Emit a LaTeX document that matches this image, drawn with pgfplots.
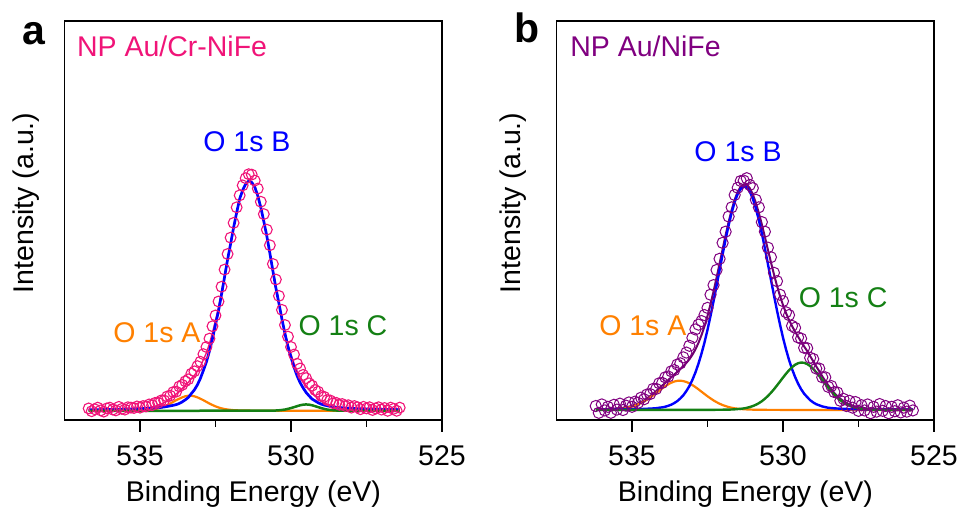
\documentclass[border=0pt]{standalone}
\usepackage{pgfplots}
\usepackage{pgfplotstable}
\pgfplotsset{compat=1.18}
\usepackage{fontspec}
\setmainfont{Liberation Sans}
\definecolor{pinkc}{RGB}{240,20,120}
\definecolor{purplec}{RGB}{128,0,128}
\definecolor{envb}{RGB}{110,0,110}
\definecolor{bluec}{RGB}{0,0,255}
\definecolor{orangec}{RGB}{255,128,0}
\definecolor{greenc}{RGB}{20,128,20}

% Panel a: x, data, envelope, blue(B), orange(A), green(C)
\pgfplotstableread{
x d e b o g
536.7 2.9 2.59 2.56 2.32 2.31
536.6 2.2 2.60 2.57 2.32 2.31
536.5 2.7 2.62 2.59 2.32 2.31
536.4 3.1 2.63 2.60 2.32 2.31
536.3 2.4 2.64 2.61 2.32 2.31
536.2 2.1 2.64 2.61 2.33 2.31
536.1 2.9 2.66 2.62 2.33 2.31
536.0 3.1 2.68 2.64 2.33 2.31
535.9 2.6 2.69 2.65 2.33 2.31
535.8 2.4 2.71 2.66 2.34 2.31
535.7 3.3 2.73 2.68 2.34 2.31
535.6 2.8 2.75 2.70 2.34 2.31
535.5 2.6 2.77 2.71 2.35 2.31
535.4 3.2 2.80 2.74 2.35 2.31
535.3 3.1 2.83 2.76 2.36 2.31
535.2 3.0 2.86 2.78 2.37 2.31
535.1 3.4 2.91 2.81 2.39 2.31
535.0 3.1 2.94 2.83 2.40 2.31
534.9 3.5 3.00 2.86 2.43 2.31
534.8 3.4 3.06 2.88 2.47 2.31
534.7 3.9 3.15 2.90 2.54 2.31
534.6 3.7 3.30 2.96 2.63 2.31
534.5 4.3 3.48 3.02 2.75 2.31
534.4 4.3 3.72 3.09 2.92 2.31
534.3 4.9 4.01 3.16 3.14 2.31
534.2 4.9 4.40 3.27 3.42 2.31
534.1 5.9 4.85 3.39 3.75 2.31
534.0 6.1 5.36 3.53 4.12 2.31
533.9 7.0 5.93 3.68 4.54 2.31
533.8 7.1 6.53 3.86 4.96 2.31
533.7 8.4 7.18 4.14 5.33 2.31
533.6 8.8 7.94 4.55 5.68 2.31
533.5 9.7 8.71 5.06 5.94 2.31
533.4 10.2 9.43 5.64 6.08 2.31
533.3 11.6 10.41 6.62 6.08 2.31
533.2 12.2 11.19 7.54 5.94 2.31
533.1 13.5 12.20 8.81 5.68 2.31
533.0 14.6 13.47 10.42 5.33 2.32
532.9 16.5 15.12 12.44 4.96 2.32
532.8 18.3 16.83 14.57 4.54 2.32
532.7 20.4 19.12 17.28 4.12 2.32
532.6 23.5 21.86 20.39 3.75 2.32
532.5 26.2 25.04 23.90 3.42 2.32
532.4 29.7 28.22 27.36 3.14 2.32
532.3 33.4 32.14 31.50 2.92 2.32
532.2 37.7 36.29 35.82 2.75 2.32
532.1 41.6 40.55 40.20 2.63 2.32
532.0 45.7 44.38 44.12 2.54 2.32
531.9 49.4 48.45 48.26 2.47 2.32
531.8 53.3 52.10 51.95 2.43 2.32
531.7 56.3 55.54 55.41 2.40 2.32
531.6 58.8 57.72 57.60 2.39 2.32
531.5 60.6 59.26 59.15 2.37 2.32
531.4 61.6 60.00 59.90 2.36 2.32
531.3 61.5 59.65 59.55 2.35 2.32
531.2 60.0 58.51 58.40 2.35 2.32
531.1 58.0 56.33 56.21 2.34 2.32
531.0 54.7 53.34 53.28 2.34 2.32
530.9 51.6 49.83 49.76 2.34 2.33
530.8 47.7 46.15 46.08 2.33 2.34
530.7 43.8 41.88 41.81 2.33 2.34
530.6 39.1 37.47 37.38 2.33 2.36
530.5 35.2 33.17 33.06 2.33 2.38
530.4 31.1 29.42 29.26 2.33 2.43
530.3 27.6 25.52 25.28 2.33 2.51
530.2 23.8 22.00 21.65 2.33 2.62
530.1 20.9 18.89 18.37 2.33 2.79
530.0 18.3 16.44 15.72 2.33 2.99
529.9 16.4 14.19 13.24 2.33 3.22
529.8 14.1 12.30 11.11 2.33 3.46
529.7 12.9 10.80 9.38 2.33 3.69
529.6 11.3 9.63 8.06 2.33 3.84
529.5 10.5 8.54 6.91 2.33 3.90
529.4 9.2 7.61 6.04 2.33 3.84
529.3 8.6 6.66 5.24 2.33 3.69
529.2 7.5 5.97 4.78 2.33 3.46
529.1 7.1 5.27 4.32 2.33 3.22
529.0 6.0 4.69 3.97 2.33 2.99
528.9 5.8 4.26 3.74 2.33 2.79
528.8 5.0 3.92 3.57 2.33 2.62
528.7 4.9 3.63 3.39 2.33 2.51
528.6 4.2 3.44 3.28 2.33 2.43
528.5 4.3 3.33 3.22 2.33 2.38
528.4 3.8 3.23 3.14 2.33 2.36
528.3 4.0 3.12 3.05 2.33 2.34
528.2 3.5 3.06 2.99 2.33 2.34
528.1 3.7 2.98 2.93 2.32 2.33
528.0 3.1 2.93 2.89 2.32 2.32
527.9 3.5 2.90 2.86 2.32 2.32
527.8 3.2 2.87 2.84 2.32 2.31
527.7 2.7 2.85 2.82 2.32 2.31
527.6 3.3 2.83 2.80 2.32 2.31
527.5 2.9 2.81 2.78 2.32 2.31
527.4 3.2 2.78 2.75 2.32 2.31
527.3 2.5 2.76 2.73 2.32 2.31
527.2 2.9 2.74 2.71 2.32 2.31
527.1 3.2 2.72 2.69 2.32 2.31
527.0 2.6 2.70 2.67 2.32 2.31
526.9 3.0 2.69 2.66 2.32 2.31
526.8 2.3 2.67 2.64 2.32 2.31
526.7 3.1 2.66 2.63 2.32 2.31
526.6 2.8 2.65 2.62 2.32 2.31
526.5 2.3 2.64 2.61 2.32 2.31
526.4 3.1 2.63 2.59 2.32 2.31
}\tabA

% Panel b: x, data, envelope, blue(B), orange(A), green(C)
\pgfplotstableread{
x d e b o g
536.2 3.5 2.69 2.63 2.54 2.52
536.1 1.8 2.71 2.64 2.55 2.52
536.0 3.9 2.72 2.64 2.56 2.52
535.9 2.4 2.75 2.65 2.58 2.52
535.8 3.3 2.77 2.65 2.60 2.52
535.7 1.8 2.81 2.66 2.63 2.52
535.6 3.8 2.85 2.66 2.67 2.52
535.5 2.6 2.90 2.67 2.71 2.52
535.4 4.1 2.97 2.67 2.78 2.52
535.3 2.5 3.06 2.68 2.86 2.52
535.2 3.6 3.19 2.68 2.99 2.52
535.1 4.4 3.35 2.69 3.14 2.52
535.0 3.3 3.55 2.70 3.33 2.52
534.9 4.6 3.81 2.71 3.58 2.52
534.8 4.3 4.13 2.73 3.88 2.52
534.7 5.6 4.50 2.75 4.23 2.52
534.6 5.2 4.93 2.78 4.63 2.52
534.5 6.4 5.45 2.82 5.11 2.52
534.4 6.5 6.00 2.86 5.62 2.52
534.3 7.8 6.60 2.90 6.18 2.52
534.2 7.8 7.23 2.95 6.76 2.52
534.1 9.2 7.93 3.07 7.34 2.52
534.0 9.3 8.61 3.17 7.92 2.52
533.9 10.7 9.30 3.32 8.46 2.52
533.8 10.9 10.03 3.56 8.95 2.52
533.7 12.2 10.70 3.84 9.34 2.52
533.6 12.5 11.40 4.24 9.64 2.52
533.5 13.9 12.07 4.74 9.81 2.52
533.4 14.2 12.78 5.41 9.85 2.52
533.3 15.7 13.47 6.20 9.75 2.52
533.2 16.9 14.31 7.26 9.53 2.52
533.1 18.6 15.21 8.49 9.20 2.52
533.0 20.6 16.35 10.06 8.76 2.53
532.9 22.7 17.69 11.91 8.25 2.53
532.8 23.9 19.31 14.09 7.69 2.53
532.7 24.8 21.25 16.61 7.11 2.53
532.6 26.3 23.46 19.41 6.52 2.53
532.5 28.1 26.09 22.60 5.95 2.54
532.4 31.4 29.03 26.08 5.41 2.54
532.3 33.8 32.23 29.77 4.91 2.55
532.2 37.6 35.67 33.64 4.47 2.56
532.1 40.4 39.21 37.56 4.08 2.57
532.0 44.4 42.81 41.48 3.75 2.58
531.9 47.2 46.35 45.28 3.48 2.59
531.8 51.0 49.66 48.81 3.25 2.60
531.7 53.3 52.65 51.95 3.07 2.63
531.6 56.4 55.24 54.64 2.93 2.67
531.5 58.2 57.21 56.65 2.82 2.74
531.4 59.9 58.49 57.94 2.75 2.80
531.3 60.0 59.09 58.50 2.69 2.90
531.2 60.6 58.98 58.28 2.65 3.05
531.1 58.9 58.13 57.27 2.62 3.24
531.0 58.1 56.56 55.48 2.59 3.49
530.9 55.2 54.46 53.07 2.58 3.81
530.8 53.3 51.87 50.10 2.56 4.21
530.7 49.6 49.00 46.74 2.55 4.71
530.6 47.2 45.91 43.04 2.55 5.32
530.5 43.2 42.68 39.12 2.54 6.02
530.4 40.8 39.56 35.20 2.54 6.82
530.3 36.9 36.52 31.28 2.54 7.70
530.2 34.8 33.66 27.48 2.54 8.64
530.1 31.4 31.12 23.95 2.53 9.64
530.0 29.8 28.81 20.64 2.53 10.64
529.9 27.0 26.80 17.68 2.53 11.59
529.8 26.3 25.05 15.04 2.53 12.48
529.7 23.6 23.53 12.75 2.53 13.25
529.6 23.1 22.16 10.79 2.53 13.84
529.5 20.7 20.87 9.11 2.53 14.23
529.4 20.4 19.63 7.71 2.52 14.40
529.3 18.1 18.44 6.59 2.52 14.33
529.2 18.0 17.29 5.75 2.52 14.02
529.1 15.6 15.99 4.96 2.52 13.51
529.0 15.3 14.73 4.40 2.52 12.81
528.9 12.9 13.44 3.96 2.52 11.96
528.8 12.9 12.23 3.68 2.52 11.03
528.7 10.7 10.95 3.40 2.52 10.03
528.6 10.7 9.78 3.23 2.52 9.03
528.5 8.3 8.65 3.06 2.52 8.07
528.4 8.5 7.67 3.00 2.52 7.15
528.3 7.0 6.76 2.92 2.52 6.32
528.2 6.9 5.98 2.88 2.52 5.58
528.1 4.8 5.31 2.84 2.52 4.95
528.0 5.3 4.72 2.80 2.52 4.40
527.9 3.5 4.25 2.77 2.52 3.96
527.8 4.8 3.88 2.75 2.52 3.61
527.7 3.1 3.57 2.73 2.52 3.32
527.6 4.5 3.35 2.71 2.52 3.12
527.5 2.3 3.17 2.70 2.52 2.95
527.4 3.7 3.04 2.69 2.52 2.83
527.3 2.4 2.97 2.68 2.52 2.77
527.2 3.9 2.88 2.68 2.52 2.68
527.1 1.7 2.83 2.67 2.52 2.64
527.0 3.3 2.80 2.67 2.52 2.61
526.9 2.1 2.78 2.66 2.52 2.60
526.8 4.0 2.76 2.66 2.52 2.58
526.7 2.3 2.74 2.65 2.52 2.57
526.6 3.5 2.73 2.65 2.52 2.56
526.5 1.7 2.72 2.65 2.52 2.55
526.4 3.3 2.71 2.64 2.52 2.55
526.3 2.2 2.70 2.64 2.52 2.54
526.2 3.7 2.69 2.64 2.52 2.54
526.1 1.9 2.69 2.63 2.52 2.54
526.0 3.1 2.68 2.63 2.52 2.54
525.9 2.1 2.68 2.63 2.52 2.53
525.8 3.6 2.67 2.62 2.52 2.53
525.7 2.4 2.67 2.62 2.52 2.53
}\tabB

\newcommand{\bigf}{\fontsize{28.5}{34}\selectfont}

\pgfplotsset{
  xpsax/.style={
    anchor=south west,
    scale only axis,
    width=377.5pt, height=399pt,
    xmin=525, xmax=537.5, x dir=reverse,
    ymin=0, ymax=100,
    xtick={525,530,535},
    minor xtick={527.5,532.5},
    xticklabels={525,530,535},
    ytick=\empty,
    xtick pos=left,
    tick align=outside,
    major tick length=12pt,
    minor tick length=7pt,
    every tick/.style={black, line width=1.8pt},
    axis line style={line width=1.8pt},
    every x tick label/.style={font=\bigf, anchor=base, yshift=-34pt},
    clip=false,
  }
}

\begin{document}
\begin{tikzpicture}[font=\bigf]
\useasboundingbox (0pt,0pt) rectangle (964pt,508pt);

% ---------- panel a ----------
\begin{axis}[xpsax, at={(64.5pt,88pt)}]
\addplot[only marks, mark=o, mark size=5.4pt, pinkc, mark options={line width=1.1pt}] table[x=x,y=d]{\tabA};
\addplot[pinkc, line width=1.4pt, line join=round] table[x=x,y=e]{\tabA};
\addplot[orangec, line width=2.2pt, line join=round] table[x=x,y=o]{\tabA};
\addplot[bluec, line width=2.7pt, line join=round] table[x=x,y=b]{\tabA};
\addplot[greenc, line width=2.5pt, line join=round] table[x=x,y=g]{\tabA};
\node[pinkc, anchor=base west, inner sep=0pt] at (axis cs:537.09,91.0) {NP Au/Cr-NiFe};
\node[bluec, anchor=base, inner sep=0pt] at (axis cs:531.46,67.4) {O 1s B};
\node[orangec, anchor=base, inner sep=0pt] at (axis cs:534.44,19.5) {O 1s A};
\node[greenc, anchor=base, inner sep=0pt] at (axis cs:528.28,21.3) {O 1s C};
\end{axis}

% ---------- panel b ----------
\begin{axis}[xpsax, at={(556.5pt,88pt)}]
\addplot[only marks, mark=o, mark size=5.6pt, purplec, mark options={line width=1.0pt}] table[x=x,y=d]{\tabB};
\addplot[envb, line width=2.0pt, line join=round] table[x=x,y=e]{\tabB};
\addplot[orangec, line width=2.2pt, line join=round] table[x=x,y=o]{\tabB};
\addplot[bluec, line width=2.4pt, line join=round] table[x=x,y=b]{\tabB};
\addplot[greenc, line width=2.4pt, line join=round] table[x=x,y=g]{\tabB};
\node[purplec, anchor=base west, inner sep=0pt] at (axis cs:537.05,91.0) {NP Au/NiFe};
\node[bluec, anchor=base, inner sep=0pt] at (axis cs:531.49,64.7) {O 1s B};
\node[orangec, anchor=base, inner sep=0pt] at (axis cs:534.64,21.3) {O 1s A};
\node[greenc, anchor=base, inner sep=0pt] at (axis cs:528.01,28.1) {O 1s C};
\end{axis}

% ---------- labels ----------
\node[anchor=base, inner sep=0pt] at (253.5pt,6pt) {Binding Energy (eV)};
\node[anchor=base, inner sep=0pt] at (745.5pt,6pt) {Binding Energy (eV)};
\node[rotate=90, anchor=base, inner sep=0pt] at (33pt,305pt) {Intensity (a.u.)};
\node[rotate=90, anchor=base, inner sep=0pt] at (520pt,305pt) {Intensity (a.u.)};
\node[anchor=base west, inner sep=0pt, font=\fontsize{41}{46}\selectfont\bfseries] at (22pt,463pt) {a};
\node[anchor=base west, inner sep=0pt, font=\fontsize{41}{46}\selectfont\bfseries] at (514pt,465pt) {b};
\end{tikzpicture}
\end{document}
